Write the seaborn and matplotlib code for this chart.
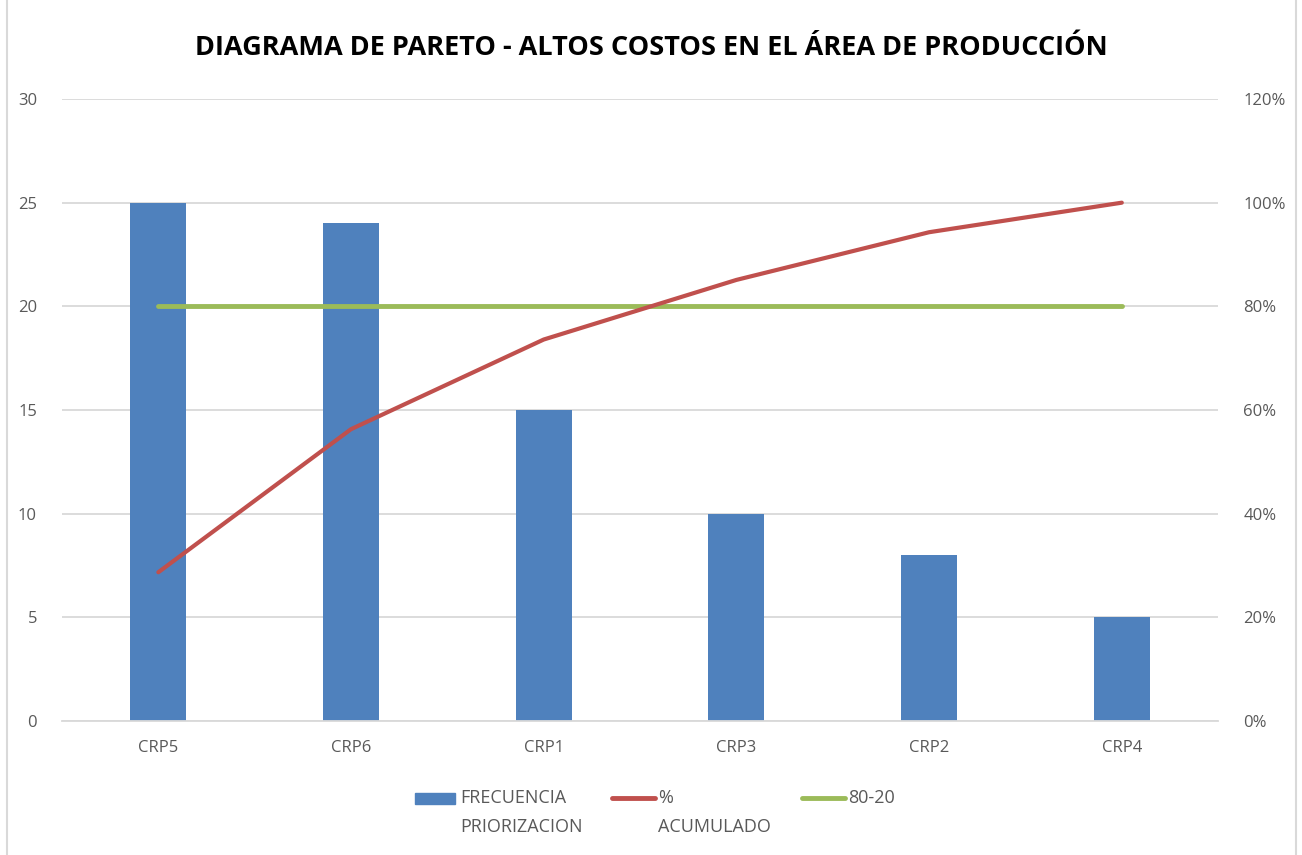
import numpy as np
import pandas as pd
import seaborn as sns
import matplotlib.pyplot as plt
from matplotlib.lines import Line2D
from matplotlib.patches import Rectangle
from matplotlib.ticker import PercentFormatter

categorias = ["CRP5", "CRP6", "CRP1", "CRP3", "CRP2", "CRP4"]
frecuencia = [25, 24, 15, 10, 8, 5]
acumulado = [28.7, 56.3, 73.6, 85.1, 94.3, 100.0]
linea_80_20 = [80, 80, 80, 80, 80, 80]

AZUL = "#4F81BD"
ROJO = "#C0504D"
VERDE = "#9BBB59"
GRIS = "#595959"

sns.set_theme(style="white")
plt.rcParams["font.family"] = ["Open Sans", "DejaVu Sans"]

df = pd.DataFrame({"cat": categorias, "frec": frecuencia,
                   "acum": acumulado, "ref": linea_80_20})

fig = plt.figure(figsize=(13.02, 8.55), dpi=100)
ax = fig.add_axes([0.0476, 0.1567, 0.888, 0.7275])

sns.barplot(data=df, x="cat", y="frec", color=AZUL, width=0.29,
            saturation=1, linewidth=0, ax=ax)
ax.set_xlim(-0.5, 5.5)
ax.set_ylim(0, 30)
ax.set_yticks(range(0, 31, 5))
ax.grid(axis="y", color="#D9D9D9", linewidth=1.3)
ax.set_axisbelow(True)
for s in ["left", "right", "top"]:
    ax.spines[s].set_visible(False)
ax.spines["bottom"].set_color("#D9D9D9")
ax.spines["bottom"].set_linewidth(1.3)
ax.set_xlabel("")
ax.set_ylabel("")
ax.tick_params(axis="both", length=0, labelsize=12, colors=GRIS, pad=14)
ax.tick_params(axis="y", pad=18)

ax2 = ax.twinx()
sns.lineplot(data=df, x="cat", y="ref", color=VERDE, linewidth=3.5,
             ax=ax2, sort=False)
sns.lineplot(data=df, x="cat", y="acum", color=ROJO, linewidth=3,
             ax=ax2, sort=False)
ax2.set_ylim(0, 120)
ax2.set_yticks(range(0, 121, 20))
ax2.yaxis.set_major_formatter(PercentFormatter(decimals=0))
for s in ["left", "right", "top", "bottom"]:
    ax2.spines[s].set_visible(False)
ax2.set_xlabel("")
ax2.set_ylabel("")
ax2.tick_params(axis="y", length=0, labelsize=12, colors=GRIS, pad=18)
ax2.grid(False)

fig.text(0.5, 1 - 48 / 855, "DIAGRAMA DE PARETO - ALTOS COSTOS EN EL ÁREA DE PRODUCCIÓN",
         ha="center", va="center", fontsize=19.5, fontweight="bold", color="black")

# leyenda estilo Excel
W, H = 1302, 855
fig.add_artist(Rectangle((415 / W, 1 - 804 / H), 40 / W, 11 / H,
                         color=AZUL, transform=fig.transFigure))
fig.add_artist(Line2D([612 / W, 655 / W], [1 - 798 / H] * 2, color=ROJO,
                      linewidth=3.5, solid_capstyle="round",
                      transform=fig.transFigure))
fig.add_artist(Line2D([802 / W, 845 / W], [1 - 798 / H] * 2, color=VERDE,
                      linewidth=3.5, solid_capstyle="round",
                      transform=fig.transFigure))
leyenda = [(460, "FRECUENCIA\nPRIORIZACION"), (658, "%\nACUMULADO"),
           (848, "80-20")]
for x, txt in leyenda:
    fig.text(x / W, 1 - 789 / H, txt, ha="left", va="top", fontsize=13,
             color=GRIS, linespacing=1.8)

# borde del gráfico
fig.add_artist(Line2D([7 / W, 7 / W], [0, 1], color="#D9D9D9", linewidth=1.5,
                      transform=fig.transFigure))
fig.add_artist(Line2D([1296 / W, 1296 / W], [0, 1], color="#D9D9D9",
                      linewidth=1.5, transform=fig.transFigure))

fig.savefig("out.png", dpi=100, facecolor="white")
